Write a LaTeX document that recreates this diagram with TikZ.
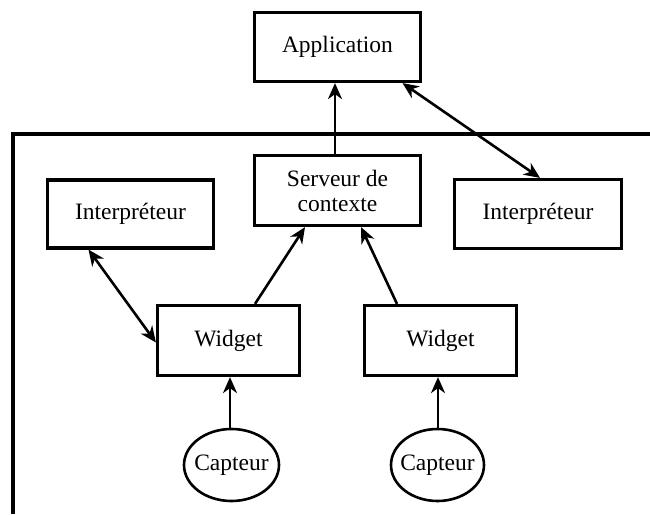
\documentclass[tikz,border=0pt]{standalone}
\usepackage{fontspec}
\setmainfont{Liberation Serif}
\usetikzlibrary{arrows.meta,shapes.geometric}
\begin{document}
\begin{tikzpicture}[x=1pt,y=-1pt,
  lbl/.style={font=\fontsize{23.5}{25}\selectfont},
  box/.style={lbl,draw,line width=3.2pt,rectangle,align=center,inner sep=0pt},
  sensor/.style={lbl,draw,line width=2.6pt,ellipse,inner sep=0pt,minimum width=95pt,minimum height=72pt},
  mytip/.tip={Stealth[length=16pt,width=14pt,inset=5pt]},
  arr/.style={line width=2.6pt,-mytip},
  darr/.style={line width=2.6pt,mytip-mytip},
  frameline/.style={line width=3.2pt}]
\useasboundingbox (0,0) rectangle (650,514);
\draw[frameline] (13,514) -- (13,134) -- (650,134);
\node[box,minimum width=166pt,minimum height=69pt] (app) at (337.5,47) {Application};
\node[box,minimum width=166pt,minimum height=70pt] (serv) at (337.5,190.5) {Serveur de\\contexte};
\node[box,minimum width=166pt,minimum height=68pt] (interpL) at (130.5,214) {Interpréteur};
\node[box,minimum width=167pt,minimum height=69pt] (interpR) at (538,214) {Interpréteur};
\node[box,minimum width=142pt,minimum height=70pt] (widL) at (228.5,340.5) {Widget};
\node[box,minimum width=152pt,minimum height=70pt] (widR) at (440.5,340.5) {Widget};
\node[sensor] (capL) at (231.5,465) {\makebox[0pt]{Capteur}};
\node[sensor,minimum width=93pt] (capR) at (437.5,465) {\makebox[0pt]{Capteur}};
\draw[arr] ([xshift=-2.5pt]serv.north) -- ([xshift=-2.5pt]app.south);
\draw[darr] ([xshift=65pt]app.south) -- ([xshift=2pt]interpR.north);
\draw[darr] ([xshift=-42pt]interpL.south) -- ([yshift=-2pt]widL.west);
\draw[arr] ([xshift=26.5pt]widL.north) -- ([xshift=-32.5pt]serv.south);
\draw[arr] ([xshift=-43.5pt]widR.north) -- ([xshift=23.5pt]serv.south);
\draw[arr] ([xshift=-1.5pt]capL.north) -- ([xshift=1.5pt]widL.south);
\draw[arr] ([xshift=0.5pt]capR.north) -- ([xshift=-2.5pt]widR.south);
\end{tikzpicture}
\end{document}
